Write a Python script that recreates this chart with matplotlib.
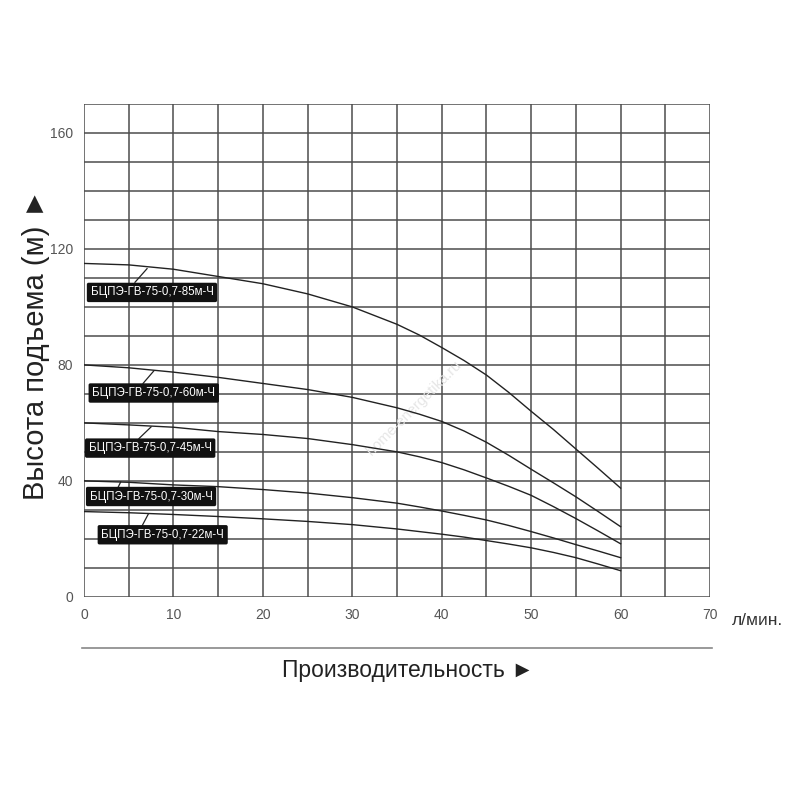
import matplotlib.pyplot as plt
import numpy as np

plt.rcParams['font.family'] = ['Liberation Sans', 'DejaVu Sans']

# flow, l/min
flow = [0, 5, 10, 15, 20, 25, 30, 35, 37.5, 40, 42.5, 45, 47.5, 50, 52.5, 55, 57.5, 60]

# head, m
h_85 = [115, 114.5, 113, 110.5, 108, 104.5, 100, 94, 90.3, 86, 81.5, 76.5, 70.5, 64, 57.7, 51, 44.3, 37.5]
h_60 = [80, 79, 77.5, 75.7, 73.6, 71.5, 68.8, 65.2, 63, 60.5, 57.2, 53.3, 48.8, 44, 39.3, 34.5, 29.4, 24.2]
h_45 = [60, 59.3, 58.5, 57, 56, 54.6, 52.5, 50, 48.3, 46.3, 43.8, 41, 38.1, 35, 31.1, 27, 22.7, 18.3]
h_30 = [40, 39.5, 38.6, 38, 37, 35.8, 34.2, 32.3, 31, 29.6, 28.1, 26.5, 24.6, 22.5, 20.3, 18, 15.8, 13.5]
h_22 = [29.4, 29, 28.4, 27.7, 26.9, 26, 24.9, 23.4, 22.5, 21.6, 20.6, 19.4, 18.2, 16.9, 15.3, 13.5, 11.3, 9]

names = ['БЦПЭ-ГВ-75-0,7-85м-Ч', 'БЦПЭ-ГВ-75-0,7-60м-Ч', 'БЦПЭ-ГВ-75-0,7-45м-Ч',
         'БЦПЭ-ГВ-75-0,7-30м-Ч', 'БЦПЭ-ГВ-75-0,7-22м-Ч']
curves = [h_85, h_60, h_45, h_30, h_22]

# label text centre, leader start (box edge) and leader end (on curve)
lab_xy = [(7.6, 105), (7.8, 70.3), (7.4, 51.3), (7.5, 34.6), (8.8, 21.4)]
lead = [((5.7, 108.5), (7.05, 113.2)),
        ((6.6, 73.6), (7.8, 77.9)),
        ((6.15, 54.6), (7.5, 58.6)),
        ((3.8, 37.7), (4.1, 39.6)),
        ((6.5, 24.5), (7.2, 28.6))]

fig = plt.figure(figsize=(8, 8), dpi=100)
ax = fig.add_axes([0.105, 0.254, 0.7825, 0.616])

gc = '#4d4d4d'
for xv in np.arange(0, 71, 5):
    ax.axvline(xv, color=gc, lw=1.1, zorder=1)
for yv in np.arange(0, 171, 10):
    ax.axhline(yv, color=gc, lw=1.1, zorder=1)

for h in curves:
    ax.plot(flow, h, color='#222222', lw=1.0, zorder=3)

for name, (tx, ty), (p0, p1) in zip(names, lab_xy, lead):
    ax.plot([p0[0], p1[0]], [p0[1], p1[1]], color='#222222', lw=0.9, zorder=3)
    ax.text(tx, ty, name, ha='center', va='center', color='white',
            fontsize=8.3, zorder=5,
            bbox=dict(boxstyle='round,pad=0.32,rounding_size=0.15',
                      fc='#111111', ec='none'))

ax.text(36.9, 65, 'home-energetika.ru', rotation=45, ha='center', va='center',
        color='#e6e6e6', fontsize=10.5, zorder=2)

ax.set_xlim(0, 70)
ax.set_ylim(0, 170)
ax.set_xticks(range(0, 71, 10))
ax.set_yticks(range(0, 161, 40))
ax.tick_params(length=0, labelsize=10, labelcolor='#555555', pad=8)
for s in ax.spines.values():
    s.set_visible(False)

fig.text(0.915, 0.224, 'л/мин.', fontsize=12.5, color='#333333', ha='left', va='center')
fig.add_artist(plt.Line2D([0.103, 0.89], [0.19, 0.19], color='#888888', lw=1.2))
fig.text(0.51, 0.162, 'Производительность ►', fontsize=16.5, color='#222222',
         ha='center', va='center')
fig.text(0.045, 0.57, 'Высота подъема (м) ►', fontsize=21, color='#222222',
         rotation=90, ha='center', va='center')

fig.savefig('out.png', dpi=100, facecolor='white')
